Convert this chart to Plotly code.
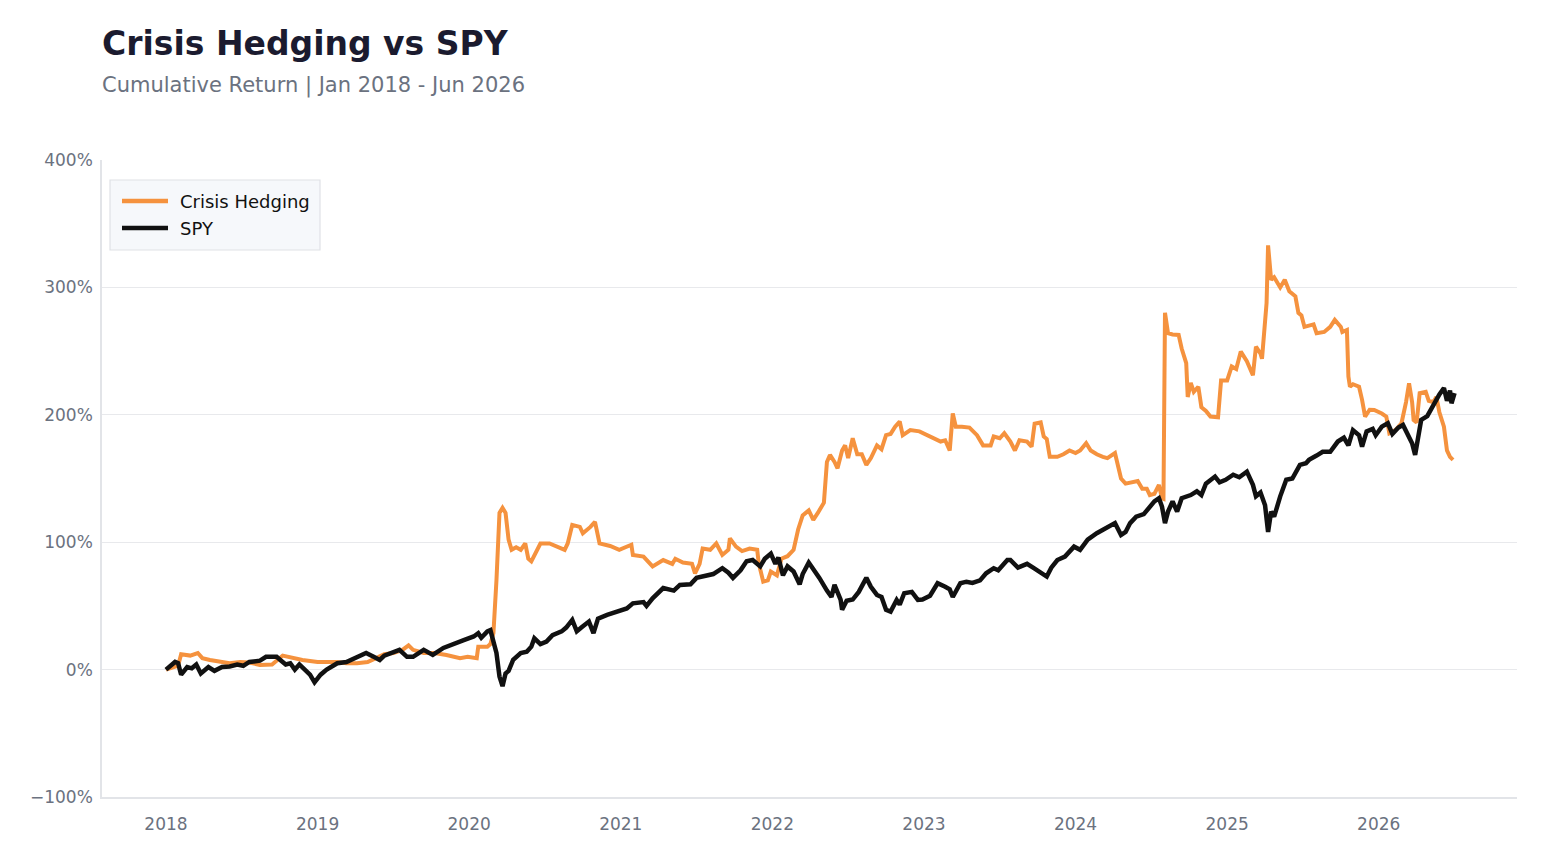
import plotly.graph_objects as go

# ---- data (decimal years, cumulative return %) ----
hedge_t = [2018.00, 2018.03, 2018.08, 2018.10, 2018.16, 2018.21, 2018.24, 2018.29, 2018.36, 2018.42,
           2018.49, 2018.55, 2018.62, 2018.70, 2018.77, 2018.84, 2018.90, 2019.00, 2019.06, 2019.13,
           2019.19, 2019.26, 2019.33, 2019.39, 2019.44, 2019.50, 2019.56, 2019.60, 2019.63, 2019.70,
           2019.77, 2019.85, 2019.94, 2019.99, 2020.05, 2020.06, 2020.12, 2020.14, 2020.16, 2020.18,
           2020.20, 2020.22, 2020.24, 2020.26, 2020.28, 2020.31, 2020.34, 2020.37, 2020.39, 2020.41,
           2020.43, 2020.47, 2020.53, 2020.58, 2020.63, 2020.65, 2020.68, 2020.73, 2020.75, 2020.80,
           2020.83, 2020.86, 2020.93, 2020.99, 2021.07, 2021.08, 2021.15, 2021.21, 2021.28, 2021.34,
           2021.36, 2021.41, 2021.47, 2021.49, 2021.52, 2021.54, 2021.59, 2021.63, 2021.67, 2021.71,
           2021.72, 2021.76, 2021.80, 2021.85, 2021.90, 2021.91, 2021.94, 2021.97, 2021.99, 2022.03,
           2022.06, 2022.10, 2022.14, 2022.17, 2022.20, 2022.24, 2022.27, 2022.30, 2022.34, 2022.36,
           2022.38, 2022.41, 2022.43, 2022.46, 2022.48, 2022.50, 2022.53, 2022.56, 2022.59, 2022.62,
           2022.65, 2022.69, 2022.72, 2022.75, 2022.78, 2022.81, 2022.84, 2022.86, 2022.91, 2022.97,
           2023.02, 2023.07, 2023.11, 2023.14, 2023.17, 2023.19, 2023.21, 2023.25, 2023.30, 2023.35,
           2023.39, 2023.44, 2023.46, 2023.50, 2023.53, 2023.57, 2023.60, 2023.63, 2023.68, 2023.71,
           2023.73, 2023.77, 2023.79, 2023.81, 2023.83, 2023.88, 2023.92, 2023.96, 2024.00, 2024.03,
           2024.07, 2024.10, 2024.14, 2024.18, 2024.21, 2024.26, 2024.28, 2024.30, 2024.33, 2024.38,
           2024.41, 2024.44, 2024.47, 2024.49, 2024.52, 2024.55, 2024.57, 2024.58, 2024.59, 2024.61,
           2024.64, 2024.68, 2024.70, 2024.73, 2024.74, 2024.76, 2024.78, 2024.81, 2024.83, 2024.86,
           2024.89, 2024.94, 2024.96, 2025.00, 2025.03, 2025.06, 2025.09, 2025.13, 2025.17, 2025.19,
           2025.22, 2025.23, 2025.26, 2025.27, 2025.29, 2025.31, 2025.35, 2025.38, 2025.41, 2025.45,
           2025.47, 2025.49, 2025.51, 2025.57, 2025.59, 2025.64, 2025.68, 2025.71, 2025.75, 2025.76,
           2025.79, 2025.80, 2025.81, 2025.83, 2025.87, 2025.89, 2025.91, 2025.94, 2025.97, 2026.02,
           2026.05, 2026.07, 2026.11, 2026.15, 2026.18, 2026.20, 2026.22, 2026.23, 2026.25, 2026.27,
           2026.31, 2026.33, 2026.36, 2026.38, 2026.40, 2026.43, 2026.45, 2026.47, 2026.49]
hedge_v = [0, 1, 3, 12, 11, 13, 9, 7.5, 6, 5,
           6, 5.5, 3.7, 4, 11, 9, 7.5, 6, 6, 6,
           5, 5, 6, 9, 12, 13, 15.5, 19, 15.5, 13,
           13, 11.5, 9, 10, 9, 18, 18, 20, 28.6, 70,
           123, 127, 123, 102, 94, 96, 94, 99, 87, 85,
           90, 99, 99, 96.5, 94, 99, 113.6, 112, 107, 112,
           116, 99, 97, 94, 98, 90, 88.7, 81, 86, 83,
           87, 84, 83, 75.6, 83, 95, 94, 99, 90, 94,
           103, 96.5, 93, 95, 94, 83.5, 69, 70, 77, 74,
           87, 89, 94, 110, 121, 125, 117.5, 123, 131, 163,
           168.5, 163, 158, 172, 176, 166, 181.6, 169, 169, 160.7,
           166, 176, 173, 184, 185, 190.7, 194.7, 184, 188, 187,
           184, 181, 179, 180, 172, 201, 190.7, 190.7, 190, 184,
           176, 176, 183, 181.6, 185.5, 179, 172, 180, 179, 175,
           193, 194, 183, 181, 167, 167, 169, 172, 170, 172,
           177.7, 172, 169, 167, 166, 170, 159, 150, 146, 147,
           148, 142, 142, 137, 138, 145, 134.5, 134, 280, 264,
           263, 262.7, 252, 240.5, 214, 225, 218, 222, 206, 203,
           198.6, 198, 227, 227, 238, 236, 249.6, 242, 231, 253.5,
           248, 244, 287.6, 333, 306, 308, 300, 306, 297, 293,
           280, 278, 269, 271, 264, 265, 269, 274.5, 269, 265,
           266.6, 230, 222, 224, 222, 211.7, 198.6, 204, 203.8, 201,
           198.6, 185.5, 188, 193.4, 210, 224.8, 210, 196, 194, 217,
           218, 211, 210, 214, 202, 190.7, 172, 167, 164.6]

spy_t = [2018.00, 2018.06, 2018.08, 2018.10, 2018.14, 2018.17, 2018.20, 2018.23, 2018.28, 2018.32,
         2018.37, 2018.42, 2018.47, 2018.51, 2018.55, 2018.62, 2018.66, 2018.73, 2018.76, 2018.79,
         2018.82, 2018.85, 2018.88, 2018.92, 2018.95, 2018.98, 2019.02, 2019.06, 2019.13, 2019.19,
         2019.26, 2019.32, 2019.37, 2019.41, 2019.44, 2019.48, 2019.52, 2019.54, 2019.59, 2019.63,
         2019.70, 2019.76, 2019.83, 2019.90, 2019.96, 2020.03, 2020.06, 2020.08, 2020.12, 2020.14,
         2020.16, 2020.18, 2020.20, 2020.22, 2020.24, 2020.26, 2020.29, 2020.34, 2020.38, 2020.41,
         2020.43, 2020.47, 2020.51, 2020.55, 2020.61, 2020.64, 2020.68, 2020.71, 2020.74, 2020.79,
         2020.82, 2020.85, 2020.91, 2020.97, 2021.04, 2021.08, 2021.15, 2021.17, 2021.21, 2021.28,
         2021.35, 2021.39, 2021.46, 2021.50, 2021.57, 2021.61, 2021.67, 2021.71, 2021.74, 2021.79,
         2021.83, 2021.87, 2021.92, 2021.95, 2021.99, 2022.02, 2022.04, 2022.07, 2022.10, 2022.14,
         2022.18, 2022.20, 2022.24, 2022.27, 2022.31, 2022.36, 2022.39, 2022.41, 2022.45, 2022.46,
         2022.49, 2022.53, 2022.57, 2022.62, 2022.65, 2022.69, 2022.72, 2022.75, 2022.78, 2022.82,
         2022.84, 2022.87, 2022.92, 2022.96, 2022.99, 2023.04, 2023.09, 2023.14, 2023.17, 2023.19,
         2023.24, 2023.28, 2023.32, 2023.37, 2023.41, 2023.46, 2023.49, 2023.55, 2023.57, 2023.62,
         2023.68, 2023.72, 2023.77, 2023.81, 2023.84, 2023.88, 2023.93, 2023.99, 2024.03, 2024.08,
         2024.14, 2024.21, 2024.26, 2024.30, 2024.33, 2024.36, 2024.40, 2024.45, 2024.48, 2024.52,
         2024.55, 2024.57, 2024.59, 2024.61, 2024.64, 2024.67, 2024.70, 2024.76, 2024.80, 2024.83,
         2024.86, 2024.92, 2024.95, 2024.99, 2025.04, 2025.08, 2025.13, 2025.17, 2025.19, 2025.22,
         2025.25, 2025.27, 2025.29, 2025.31, 2025.35, 2025.39, 2025.43, 2025.48, 2025.52, 2025.54,
         2025.59, 2025.63, 2025.68, 2025.73, 2025.77, 2025.80, 2025.83, 2025.87, 2025.89, 2025.92,
         2025.96, 2025.98, 2026.02, 2026.06, 2026.09, 2026.13, 2026.16, 2026.19, 2026.22, 2026.24,
         2026.26, 2026.28, 2026.32, 2026.35, 2026.38, 2026.40, 2026.43, 2026.45, 2026.47, 2026.48,
         2026.50]
spy_v = [0, 6, 5, -4, 2, 1, 4, -3, 2, -1,
         2, 2.4, 4, 3, 6, 7, 10, 10, 7, 4,
         5, 0, 4, -1, -4, -10, -4, 0, 5, 6,
         10, 13, 10, 7.6, 11, 13, 15, 15.5, 10, 10,
         15.5, 11.5, 17, 20.7, 23, 26, 28.6, 25, 30, 31,
         20.7, 13, -5.5, -13, -3, -1, 7.6, 13, 14, 18,
         24.6, 20, 22, 27, 30, 33, 39, 30, 33, 37.7,
         28.6, 40, 43, 45.5, 48, 52, 53, 50, 56, 64,
         62, 66.5, 67, 72, 74, 75, 79.6, 76, 72, 78,
         85, 86, 81, 87, 91, 83, 88, 74, 81, 77,
         67, 75, 84, 79, 72, 62, 57, 66.5, 55, 47,
         54, 55, 61, 72, 65, 58.6, 57, 47, 45.5, 54.7,
         51, 60, 61, 54.7, 55, 58, 67.8, 65, 63, 57,
         67.8, 69, 68, 70, 75.6, 79.6, 78, 86, 86, 80,
         83, 80, 75.6, 73, 80, 86, 88.7, 96.5, 94, 102,
         107, 112, 115, 105.7, 108, 115, 120, 122, 126.7, 132,
         134.5, 128, 115, 124, 132, 124, 134.5, 137, 140, 137,
         146, 151.5, 147, 149, 153, 151, 155.4, 145, 136, 139,
         129, 108, 124, 120, 136, 149, 150, 160.7, 162, 164.6,
         168, 171, 171, 179, 182, 176, 188, 184, 175, 187,
         189, 184, 190.7, 193.4, 185, 190, 192, 185, 177.7, 168.5,
         185, 196, 199, 206, 213, 216, 221, 211, 219, 209,
         217]

series_names = ["Crisis Hedging", "SPY"]
series_colors = ["#F5923E", "#111111"]
year_ticks = [2018, 2019, 2020, 2021, 2022, 2023, 2024, 2025, 2026]
y_ticks = [-100, 0, 100, 200, 300, 400]
y_tick_labels = ["\u2212100%", "0%", "100%", "200%", "300%", "400%"]

FONT = "DejaVu Sans"
GREY = "#6b7280"

fig = go.Figure()
fig.add_trace(go.Scatter(x=hedge_t, y=hedge_v, mode="lines", name=series_names[0],
                         line=dict(color=series_colors[0], width=4)))
fig.add_trace(go.Scatter(x=spy_t, y=spy_v, mode="lines", name=series_names[1],
                         line=dict(color=series_colors[1], width=4.5)))

# plot-area pixel helpers for the hand-drawn legend (plot area: x 102..1517, y 160..797)
def px(x):
    return (x - 102) / 1415.0

def py(y):
    return (797 - y) / 637.0

shapes = [dict(type="rect", xref="paper", yref="paper", x0=px(110), x1=px(320), y0=py(250), y1=py(180),
               fillcolor="#f6f8fb", line=dict(color="#dfe2e6", width=1.2), layer="above")]
annotations = [
    dict(text="<b>Crisis Hedging vs SPY</b>", xref="paper", yref="paper",
         x=0, xshift=-2, y=py(43), xanchor="left", yanchor="middle", showarrow=False,
         font=dict(family=FONT, size=33, color="#1b1b2f")),
    dict(text="Cumulative Return | Jan 2018 - Jun 2026", xref="paper", yref="paper",
         x=0, xshift=-2, y=py(85), xanchor="left", yanchor="middle", showarrow=False,
         font=dict(family=FONT, size=21, color=GREY)),
]
for i, (nm, col) in enumerate(zip(series_names, series_colors)):
    yy = 201 + 27 * i
    shapes.append(dict(type="line", xref="paper", yref="paper", x0=px(122), x1=px(168),
                       y0=py(yy), y1=py(yy), line=dict(color=col, width=4.5), layer="above"))
    annotations.append(dict(text=nm, xref="paper", yref="paper", x=px(180), xshift=-2, y=py(yy),
                            xanchor="left", yanchor="middle", showarrow=False,
                            font=dict(family=FONT, size=18, color="#111111")))

fig.update_layout(
    width=1547, height=862,
    margin=dict(l=102, r=30, t=160, b=65),
    paper_bgcolor="white", plot_bgcolor="white",
    font=dict(family=FONT, size=17, color=GREY),
    showlegend=False,
    xaxis=dict(range=[2017.578, 2026.912], tickvals=year_ticks,
               ticktext=[str(y) for y in year_ticks], showgrid=False,
               zeroline=False, showline=True, linecolor="#e2e4e8", linewidth=1.5,
               ticks="", ticklabelstandoff=11, tickfont=dict(size=17, color=GREY)),
    yaxis=dict(range=[-100, 400], tickvals=y_ticks, ticktext=y_tick_labels,
               showgrid=True, gridcolor="#e8e9ec", gridwidth=1.2,
               zeroline=False, showline=True, linecolor="#e2e4e8", linewidth=1.5,
               ticks="", ticklabelstandoff=4, tickfont=dict(size=17, color=GREY)),
    shapes=shapes,
    annotations=annotations,
)

fig.write_html("out.html")
